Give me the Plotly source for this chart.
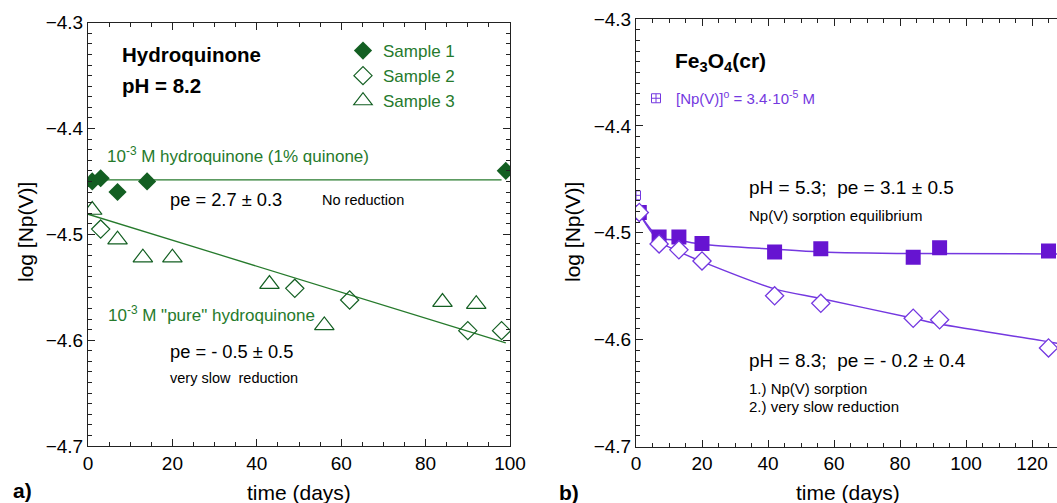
import plotly.graph_objects as go

# ---------------- data ----------------
# Panel a: hydroquinone, pH 8.2
A_S1_DAYS = [1, 3, 7, 14, 99]
A_S1_LOG = [-4.450, -4.447, -4.460, -4.450, -4.440]
A_S2_DAYS = [3, 49, 62, 90, 98]
A_S2_LOG = [-4.495, -4.551, -4.562, -4.591, -4.591]
A_S3_DAYS = [1, 7, 13, 20, 43, 56, 84, 92]
A_S3_LOG = [-4.477, -4.505, -4.522, -4.522, -4.547, -4.586, -4.564, -4.566]
A_FIT_QUIN_DAYS = [0, 98]
A_FIT_QUIN_LOG = [-4.4486, -4.4486]
A_FIT_PURE_DAYS = [0, 99]
A_FIT_PURE_LOG = [-4.481, -4.6025]

# Panel b: Fe3O4(cr)
B_INIT_DAYS = [0]
B_INIT_LOG = [-4.465]
B_SQ_DAYS = [1, 7, 13, 20, 42, 56, 84, 92, 125]
B_SQ_LOG = [-4.481, -4.504, -4.504, -4.510, -4.518, -4.515, -4.523, -4.514, -4.517]
B_DI_DAYS = [1, 7, 13, 20, 42, 56, 84, 92, 125]
B_DI_LOG = [-4.481, -4.5105, -4.516, -4.5264, -4.559, -4.566, -4.580, -4.5814, -4.6078]
B_FIT_SORP_DAYS = [1, 7, 13, 20, 42, 56, 84, 127.6]
B_FIT_SORP_LOG = [-4.482, -4.5045, -4.507, -4.5107, -4.5154, -4.518, -4.5195, -4.5198]
B_FIT_RED_DAYS = [1, 7, 13, 20, 42, 56, 84, 92, 125, 127.6]
B_FIT_RED_LOG = [-4.482, -4.508, -4.5177, -4.527, -4.5525, -4.5616, -4.580, -4.5854, -4.602, -4.6035]

Y_TICK_VALS = [-4.7, -4.6, -4.5, -4.4, -4.3]
Y_TICK_TEXT = ["\u22124.7", "\u22124.6", "\u22124.5", "\u22124.4", "\u22124.3"]
A_X_TICK_VALS = [0, 20, 40, 60, 80, 100]
A_X_TICK_TEXT = ["0", "20", "40", "60", "80", "100"]
B_X_TICK_VALS = [0, 20, 40, 60, 80, 100, 120]
B_X_TICK_TEXT = ["0", "20", "40", "60", "80", "100", "120"]

# ---------------- styling ----------------
W, H = 1057, 503
FONT = "Liberation Sans, Arial, Helvetica, sans-serif"
GREEN_MK = "#135f22"
GREEN_TX = "#267a2c"
PURPLE_MK = "#6614d1"
PURPLE_LN = "#7438e0"
AXC = "#222222"


def fx(px):
    return px / W


def fy(py):
    return 1 - py / H


fig = go.Figure()

# ----- panel a traces -----
fig.add_trace(go.Scatter(x=A_FIT_QUIN_DAYS, y=A_FIT_QUIN_LOG, mode="lines",
                         line=dict(color=GREEN_TX, width=1.3), showlegend=False,
                         xaxis="x", yaxis="y"))
fig.add_trace(go.Scatter(x=A_FIT_PURE_DAYS, y=A_FIT_PURE_LOG, mode="lines",
                         line=dict(color=GREEN_TX, width=1.3), showlegend=False,
                         xaxis="x", yaxis="y"))
fig.add_trace(go.Scatter(x=A_S1_DAYS, y=A_S1_LOG, mode="markers", name="Sample 1",
                         marker=dict(symbol="diamond", size=14, color=GREEN_MK,
                                     line=dict(width=0)),
                         xaxis="x", yaxis="y", legend="legend"))
fig.add_trace(go.Scatter(x=A_S2_DAYS, y=A_S2_LOG, mode="markers", name="Sample 2",
                         marker=dict(symbol="diamond-open", size=14, color=GREEN_MK,
                                     line=dict(width=1.2, color=GREEN_MK)),
                         xaxis="x", yaxis="y", legend="legend"))
fig.add_trace(go.Scatter(x=A_S3_DAYS, y=A_S3_LOG, mode="markers", name="Sample 3",
                         marker=dict(symbol="triangle-up-open", size=17, color=GREEN_MK,
                                     line=dict(width=1.2, color=GREEN_MK)),
                         xaxis="x", yaxis="y", legend="legend"))

# ----- panel b traces -----
fig.add_trace(go.Scatter(x=B_FIT_SORP_DAYS, y=B_FIT_SORP_LOG, mode="lines",
                         line=dict(color=PURPLE_LN, width=1.5, shape="spline", smoothing=0.8),
                         showlegend=False, xaxis="x2", yaxis="y2"))
fig.add_trace(go.Scatter(x=B_FIT_RED_DAYS, y=B_FIT_RED_LOG, mode="lines",
                         line=dict(color=PURPLE_LN, width=1.5, shape="spline", smoothing=0.8),
                         showlegend=False, xaxis="x2", yaxis="y2"))
fig.add_trace(go.Scatter(x=B_SQ_DAYS, y=B_SQ_LOG, mode="markers",
                         marker=dict(symbol="square", size=15, color=PURPLE_MK, line=dict(width=0)),
                         showlegend=False, xaxis="x2", yaxis="y2"))
fig.add_trace(go.Scatter(x=B_DI_DAYS, y=B_DI_LOG, mode="markers",
                         marker=dict(symbol="diamond", size=14, color="white",
                                     line=dict(width=1.3, color=PURPLE_LN)),
                         showlegend=False, xaxis="x2", yaxis="y2"))
fig.add_trace(go.Scatter(x=B_INIT_DAYS, y=B_INIT_LOG, mode="markers",
                         name="[Np(V)]<sup>o</sup> = 3.4·10<sup>-5</sup> M",
                         marker=dict(symbol="square-cross-open", size=9, color=PURPLE_LN,
                                     line=dict(width=1, color=PURPLE_LN)),
                         xaxis="x2", yaxis="y2", legend="legend2"))

# ----- axes -----
common = dict(showline=True, linecolor=AXC, linewidth=1, ticks="inside", ticklen=7,
              tickcolor=AXC, tickwidth=1, showgrid=False, zeroline=False, automargin=False,
              tickfont=dict(family=FONT, size=19, color="black"), tickmode="array")

a_dom_x = [fx(88), fx(510)]
a_dom_y = [fy(446), fy(22.7)]
b_dom_x = [fx(636), 1.0]
b_dom_y = [fy(446.5), fy(19)]
b_xmax = (W - 636) / 3.3

fig.update_layout(
    template="none",
    xaxis=dict(domain=a_dom_x, range=[0, 100], anchor="y", mirror="allticks",
               tickvals=A_X_TICK_VALS, ticktext=A_X_TICK_TEXT,
               minor=dict(tickmode="linear", tick0=0, dtick=5, ticks="inside", ticklen=4,
                          tickcolor=AXC, showgrid=False), **common),
    yaxis=dict(domain=a_dom_y, range=[-4.7, -4.3], anchor="x", mirror="allticks",
               tickvals=Y_TICK_VALS, ticktext=Y_TICK_TEXT,
               minor=dict(tickmode="linear", tick0=-4.7, dtick=0.01, ticks="inside", ticklen=4,
                          tickcolor=AXC, showgrid=False), **common),
    xaxis2=dict(domain=b_dom_x, range=[0, b_xmax], anchor="y2", mirror="allticks",
                tickvals=B_X_TICK_VALS, ticktext=B_X_TICK_TEXT,
                minor=dict(tickmode="linear", tick0=0, dtick=5, ticks="inside", ticklen=4,
                           tickcolor=AXC, showgrid=False), **common),
    yaxis2=dict(domain=b_dom_y, range=[-4.7, -4.3], anchor="x2", mirror=False,
                tickvals=Y_TICK_VALS, ticktext=Y_TICK_TEXT,
                minor=dict(tickmode="linear", tick0=-4.7, dtick=0.01, ticks="inside", ticklen=4,
                           tickcolor=AXC, showgrid=False), **common),
)


def ann(text, x, y, size, color="black", xanchor="left", yanchor="middle", angle=0):
    fig.add_annotation(text=text, x=fx(x), y=fy(y), xref="paper", yref="paper",
                       xanchor=xanchor, yanchor=yanchor, showarrow=False, textangle=angle,
                       font=dict(family=FONT, size=size, color=color))


# panel a texts
ann("<b>Hydroquinone</b>", 120, 54, 20.5)
ann("<b>pH = 8.2</b>", 120, 85, 20.5)
ann("10<sup>-3</sup> M hydroquinone (1% quinone)", 105, 155, 17, GREEN_TX)
ann("pe = 2.7 ± 0.3", 168, 200, 18.3)
ann("No reduction", 320, 200, 14.5)
ann("10<sup>-3</sup> M \"pure\" hydroquinone", 106, 314, 17, GREEN_TX)
ann("pe = - 0.5 ± 0.5", 168, 351, 18.3)
ann("very slow\u00a0 reduction", 168, 378, 14.5)
ann("<b>a)</b>", 11, 490, 21)
ann("time (days)", 299, 492, 21, xanchor="center")
ann("log [Np(V)]", 25, 232, 21, xanchor="center", angle=-90)

# panel b texts
ann("<b>Fe<sub>3</sub>O<sub>4</sub>(cr)</b>", 673, 62, 21)
ann("pH = 5.3;\u00a0 pe = 3.1 ± 0.5", 747, 187, 19)
ann("Np(V) sorption equilibrium", 747, 216, 15)
ann("pH = 8.3;\u00a0 pe = - 0.2 ± 0.4", 747, 360, 19)
ann("1.) Np(V) sorption", 747, 388, 15)
ann("2.) very slow reduction", 747, 406, 15)
ann("<b>b)</b>", 557, 492, 21)
ann("time (days)", 848, 492, 21, xanchor="center")
ann("log [Np(V)]", 572, 232, 21, xanchor="center", angle=-90)

fig.update_layout(
    width=W, height=H,
    margin=dict(l=0, r=0, t=0, b=0, pad=0),
    paper_bgcolor="white", plot_bgcolor="white",
    font=dict(family=FONT),
    legend=dict(x=fx(343), y=fy(33), xanchor="left", yanchor="top",
                bgcolor="rgba(0,0,0,0)", borderwidth=0,
                font=dict(family=FONT, size=17, color=GREEN_TX), itemwidth=30),
    legend2=dict(x=fx(636), y=fy(82), xanchor="left", yanchor="top",
                 bgcolor="rgba(0,0,0,0)", borderwidth=0,
                 font=dict(family=FONT, size=15, color=PURPLE_LN), itemwidth=30),
)

fig.write_html("out.html")
